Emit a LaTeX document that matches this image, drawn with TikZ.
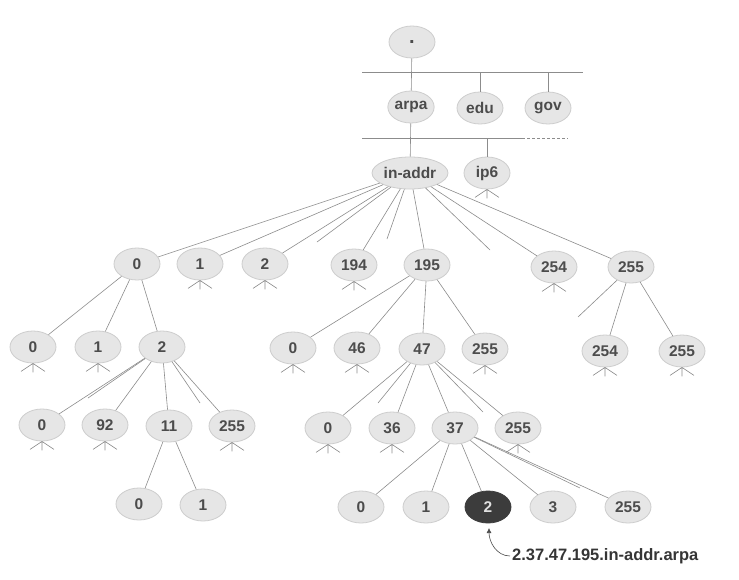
\documentclass[tikz,border=0pt]{standalone}
\usepackage{fontspec}
\setmainfont{Liberation Sans}
\usetikzlibrary{shapes.geometric,arrows.meta}
\definecolor{nodefill}{HTML}{E6E6E6}
\definecolor{nodeedge}{HTML}{CDCDCD}
\definecolor{edgecol}{HTML}{8C8C8C}
\definecolor{txtcol}{HTML}{4C4C4C}
\definecolor{darkfill}{HTML}{3C3C3C}
\begin{document}
\begin{tikzpicture}[x=1pt,y=-1pt,
  dn/.style={ellipse, fill=nodefill, draw=nodeedge, line width=0.8pt,
    minimum width=46pt, minimum height=32pt, inner sep=0pt,
    font=\fontsize{15.5}{17}\selectfont\bfseries, text=txtcol},
  wide/.style={minimum width=76pt},
  dark/.style={fill=darkfill, draw=darkfill, text=white!88!black},
  edge/.style={draw=edgecol, line width=0.6pt}]
\useasboundingbox[fill=white] (0,0) rectangle (739,579);

% nodes
\node[dn] (root) at (412,42) {\fontsize{20}{20}\selectfont .};
\node[dn] (arpa) at (411,107) {arpa};
\node[dn] (edu) at (480,108) {edu};
\node[dn] (gov) at (548,108) {gov};
\node[dn,wide] (inaddr) at (410,173) {in-addr};
\node[dn] (ip6) at (487,173) {ip6};

\node[dn] (a0) at (137,264) {0};
\node[dn] (a1) at (200,264) {1};
\node[dn] (a2) at (265,264) {2};
\node[dn] (a194) at (354,265) {194};
\node[dn] (a195) at (427,265) {195};
\node[dn] (a254) at (554,267) {254};
\node[dn] (a255) at (631,267) {255};

\node[dn] (b0) at (33,347) {0};
\node[dn] (b1) at (98,347) {1};
\node[dn] (b2) at (162,347) {2};
\node[dn] (c0) at (293,348) {0};
\node[dn] (c46) at (357,348) {46};
\node[dn] (c47) at (422,349) {47};
\node[dn] (c255) at (485,349) {255};
\node[dn] (d254) at (605,351) {254};
\node[dn] (d255) at (682,351) {255};

\node[dn] (e0) at (42,425) {0};
\node[dn] (e92) at (105,425) {92};
\node[dn] (e11) at (169,426) {11};
\node[dn] (e255) at (232,426) {255};
\node[dn] (f0) at (328,428) {0};
\node[dn] (f36) at (392,428) {36};
\node[dn] (f37) at (455,428) {37};
\node[dn] (f255) at (518,428) {255};

\node[dn] (g0) at (139,504) {0};
\node[dn] (g1) at (203,505) {1};
\node[dn] (h0) at (361,507) {0};
\node[dn] (h1) at (426,507) {1};
\node[dn,dark] (h2) at (488,507) {2};
\node[dn] (h3) at (553,507) {3};
\node[dn] (h255) at (628,507) {255};

\node[anchor=west, inner sep=2pt, font=\fontsize{16.5}{18}\selectfont\bfseries, text=txtcol!70!black] (lbl) at (510,556) {2.37.47.195.in-addr.arpa};

% top bars
\coordinate (l1a) at (362,72);
\coordinate (l1b) at (583,72);
\coordinate (l1edu) at (480,72);
\coordinate (l1gov) at (548,72);
\coordinate (l2a) at (362,138);
\coordinate (l2b) at (522,138);
\coordinate (l2c) at (568,138);
\coordinate (l2ip6) at (487,138);
\draw[edge] (l1a) -- (l1b);
\draw[edge] (root) -- (arpa);
\draw[edge] (l1edu) -- (edu);
\draw[edge] (l1gov) -- (gov);
\draw[edge] (l2a) -- (l2b);
\draw[edge, dash pattern=on 3pt off 2pt] (l2b) -- (l2c);
\draw[edge] (arpa) -- (inaddr);
\draw[edge] (l2ip6) -- (ip6);

% stub ends
\coordinate (s1) at (317,242);
\coordinate (s2) at (387,239);
\coordinate (s3) at (490,250);
\coordinate (s4) at (88,398);
\coordinate (s5) at (200,403);
\coordinate (s6) at (378,403);
\coordinate (s7) at (483,412);
\coordinate (s8) at (578,317);
\coordinate (s9) at (580,488);

% edges
\foreach \c in {a0,a1,a2,s1,a194,s2,a195,s3,a254,a255} \draw[edge] (inaddr) -- (\c);
\foreach \c in {b0,b1,b2} \draw[edge] (a0) -- (\c);
\foreach \c in {e0,s4,e92,e11,s5,e255} \draw[edge] (b2) -- (\c);
\foreach \c in {g0,g1} \draw[edge] (e11) -- (\c);
\foreach \c in {c0,c46,c47,c255} \draw[edge] (a195) -- (\c);
\foreach \c in {f0,s6,f36,f37,s7,f255} \draw[edge] (c47) -- (\c);
\foreach \c in {h0,h1,h2,h3,s9,h255} \draw[edge] (f37) -- (\c);
\foreach \c in {s8,d254,d255} \draw[edge] (a255) -- (\c);

% fans for unexpanded subtrees
\foreach \n in {ip6,a1,a2,a194,a254,b0,b1,c0,c46,c255,d254,d255,e0,e92,e255,f0,f36,f255}
  \draw[edge] (\n.south) -- ++(-12,8) (\n.south) -- ++(0,9) (\n.south) -- ++(12,8);

% pointer arrow
\coordinate (tip) at (489,528);
\draw[line width=0.6pt, draw=txtcol, -{Latex[length=5pt,width=5pt]}] (lbl.west) to[out=180,in=-90] (tip);
\end{tikzpicture}
\end{document}
